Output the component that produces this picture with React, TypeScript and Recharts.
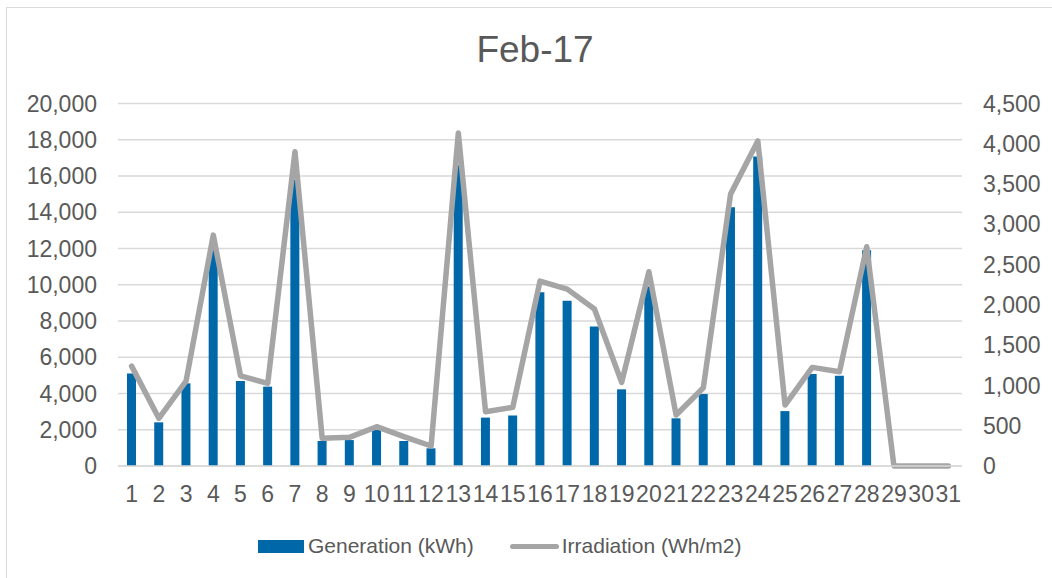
import { Bar, ComposedChart, Line, XAxis, YAxis, CartesianGrid, Legend } from "recharts"

const days = [
  "1", "2", "3", "4", "5", "6", "7", "8", "9", "10", "11", "12", "13", "14", "15", "16",
  "17", "18", "19", "20", "21", "22", "23", "24", "25", "26", "27", "28", "29", "30", "31",
]

const generation = [
  5100, 2410, 4560, 11900, 4690, 4380, 15800, 1380, 1430, 1990, 1380, 975, 16600, 2670, 2780, 9580,
  9120, 7690, 4230, 9900, 2630, 3970, 14270, 17070, 3030, 5080, 4980, 11900, 0, 0, 0,
]

const irradiation = [
  1240, 592, 1055, 2866, 1120, 1026, 3900, 343, 356, 488, 364, 248, 4135, 674, 728, 2295,
  2196, 1948, 1038, 2411, 633, 972, 3375, 4036, 757, 1224, 1170, 2721, 0, 0, 0,
]

const leftTicks = [0, 2000, 4000, 6000, 8000, 10000, 12000, 14000, 16000, 18000, 20000]
const rightTicks = [0, 500, 1000, 1500, 2000, 2500, 3000, 3500, 4000, 4500]

const data = days.map((day, i) => ({ day, gen: generation[i], irr: irradiation[i] }))

const textColor = "#595959"
const gridColor = "#d9d9d9"
const barColor = "#0068a8"
const lineColor = "#a5a5a5"
const font = "'Liberation Sans', Arial, sans-serif"

const fmt = (v: number) => v.toLocaleString("en-US")

function LegendBox() {
  return (
    <div style={{ display: "flex", alignItems: "center", fontFamily: font, fontSize: 21, color: textColor }}>
      <span style={{ width: 46, height: 13, background: barColor, marginRight: 4 }} />
      <span style={{ marginRight: 36 }}>Generation (kWh)</span>
      <span style={{ width: 49, height: 5, background: lineColor, borderRadius: 3, marginRight: 3 }} />
      <span>Irradiation (Wh/m2)</span>
    </div>
  )
}

export default function App() {
  return (
    <div
      style={{
        position: "absolute",
        left: 0,
        top: 0,
        width: 1052,
        height: 578,
        overflow: "hidden",
        background: "#fff",
        fontFamily: font,
      }}
    >
      <div
        style={{
          position: "absolute",
          left: 6,
          top: 7,
          width: 1100,
          height: 620,
          border: `1.5px solid ${gridColor}`,
        }}
      />
      <div
        style={{
          position: "absolute",
          left: 0,
          width: 1070,
          top: 31,
          textAlign: "center",
          fontSize: 37,
          lineHeight: "37px",
          color: textColor,
        }}
      >
        Feb-17
      </div>
      <div style={{ position: "absolute", left: 0, top: 0 }}>
        <ComposedChart width={1052} height={578} data={data} margin={{ top: 103.5, right: 0, left: 0, bottom: 0 }}>
          <CartesianGrid yAxisId="left" vertical={false} stroke={gridColor} strokeWidth={1.3} />
          <XAxis
            dataKey="day"
            height={112}
            interval={0}
            tickLine={false}
            tickSize={0}
            tickMargin={20}
            axisLine={{ stroke: gridColor, strokeWidth: 1.3 }}
            tick={{ fill: textColor, fontSize: 23, fontFamily: font }}
          />
          <YAxis
            yAxisId="left"
            width={118}
            domain={[0, 20000]}
            ticks={leftTicks}
            tickFormatter={fmt}
            axisLine={false}
            tickLine={false}
            tickSize={0}
            tickMargin={21}
            tick={{ fill: textColor, fontSize: 23, fontFamily: font }}
          />
          <YAxis
            yAxisId="right"
            orientation="right"
            width={90}
            domain={[0, 4500]}
            ticks={rightTicks}
            tickFormatter={fmt}
            axisLine={false}
            tickLine={false}
            tickSize={0}
            tickMargin={21}
            tick={{ fill: textColor, fontSize: 23, fontFamily: font, textAnchor: "start" }}
          />
          <Bar yAxisId="left" dataKey="gen" name="Generation (kWh)" fill={barColor} barSize={9} isAnimationActive={false} />
          <Line
            yAxisId="right"
            dataKey="irr"
            name="Irradiation (Wh/m2)"
            type="linear"
            stroke={lineColor}
            strokeWidth={5.5}
            strokeLinecap="round"
            strokeLinejoin="round"
            dot={false}
            activeDot={false}
            isAnimationActive={false}
          />
          <Legend
            layout="horizontal"
            verticalAlign="middle"
            align="center"
            content={() => <LegendBox />}
            wrapperStyle={{ left: 258, top: 534, width: 600, height: 26 }}
          />
        </ComposedChart>
      </div>
    </div>
  )
}
